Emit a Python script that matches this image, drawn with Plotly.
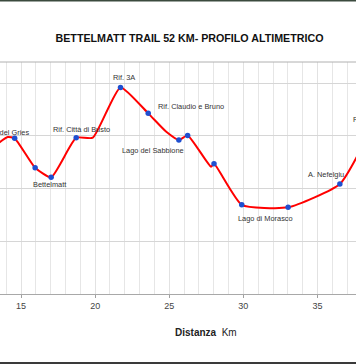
import plotly.graph_objects as go

# Data (distance in km, altitude in m)
km = [13.0, 14.1, 14.57, 15.95, 17.03, 18.72, 19.84, 21.71, 23.58, 24.8, 25.65,
      26.24, 27.82, 28.02, 29.89, 33.02, 36.51, 38.6]
quota = [2380, 2488, 2476, 2197, 2106, 2482, 2482, 2959, 2713, 2538, 2460,
         2504, 2207, 2235, 1846, 1822, 2043, 2560]
marked = [False, False, True, True, True, True, False, True, True, False, True,
          True, False, True, True, True, True, True]
labels = ["", "", "Passo del Gries", "", "Bettelmatt", "Rif. Città di Busto", "",
          "Rif. 3A", "Rif. Claudio e Bruno", "", "Lago del Sabbione", "", "", "",
          "Lago di Morasco", "", "A. Nefelgiu", "Rif. Maria Luisa"]

title = "BETTELMATT TRAIL 52 KM- PROFILO ALTIMETRICO"
x_range = [13.58, 37.6]
y_range = [1000, 3200]

# label placement (style): xanchor, xshift, yshift
label_style = {
    "Passo del Gries": ("right", 16, 6),
    "Bettelmatt": ("center", -2, -7),
    "Rif. Città di Busto": ("center", 5.5, 8),
    "Rif. 3A": ("center", 4, 10),
    "Rif. Claudio e Bruno": ("left", 7.5, 6.6),
    "Lago del Sabbione": ("center", -26, -10),
    "Lago di Morasco": ("left", -6, -14),
    "A. Nefelgiu": ("center", -14, 9.3),
    "Rif. Maria Luisa": ("left", -20, 9.5),
}

LABEL_FONT = dict(family="Liberation Sans", size=7.4, color="#333333")

fig = go.Figure()
fig.add_trace(go.Scatter(
    x=km, y=quota, mode="lines",
    line=dict(color="#ff0000", width=2, shape="spline", smoothing=0.5),
    hoverinfo="skip", cliponaxis=False,
))
mk_x = [k for k, m in zip(km, marked) if m]
mk_y = [q for q, m in zip(quota, marked) if m]
fig.add_trace(go.Scatter(
    x=mk_x, y=mk_y, mode="markers",
    marker=dict(color="#1f4fd0", size=5.5, line=dict(width=0)),
    hoverinfo="skip",
))


def to_paper(k, q):
    return ((k - x_range[0]) / (x_range[1] - x_range[0]),
            (q - y_range[0]) / (y_range[1] - y_range[0]))


annotations = []
for k, q, lab in zip(km, quota, labels):
    if not lab:
        continue
    xa, xs, ys = label_style[lab]
    px, py = to_paper(k, q)
    annotations.append(dict(x=px, y=py, xref="paper", yref="paper", text=lab, showarrow=False,
                            xanchor=xa, yanchor="middle", xshift=xs, yshift=ys,
                            font=LABEL_FONT))

# axis title
annotations.append(dict(x=206 / 356, y=(294 - 332.3) / 232, xref="paper", yref="paper",
                        text="<b>Distanza</b>  Km", showarrow=False,
                        xanchor="center", yanchor="middle",
                        font=dict(family="Liberation Sans", size=10, color="#222222")))

fig.update_layout(
    width=356, height=364,
    margin=dict(l=0, r=0, t=62, b=70),
    paper_bgcolor="white", plot_bgcolor="white",
    showlegend=False,
    title=dict(text="<b>" + title + "</b>", x=189.5 / 356, xanchor="center",
               y=1 - 38.3 / 364, yanchor="middle", yref="container",
               font=dict(family="Liberation Sans", size=10.7, color="#111111")),
    xaxis=dict(range=x_range, dtick=5, tick0=0, showgrid=True, gridcolor="#e2e2e2",
               gridwidth=1, ticks="outside", ticklen=3, tickcolor="#a0a0a0",
               showline=True, linecolor="#a8a8a8", linewidth=1, zeroline=False,
               tickfont=dict(family="Liberation Sans", size=9, color="#444444"),
               minor=dict(dtick=1, showgrid=True, gridcolor="#e6e6e6", gridwidth=1)),
    yaxis=dict(range=y_range, dtick=500, tick0=0, showgrid=True, gridcolor="#d6d6d6",
               gridwidth=1, showticklabels=False, zeroline=False, showline=False),
    annotations=annotations,
    shapes=[
        dict(type="line", xref="paper", yref="paper", x0=0, x1=1, y0=1, y1=1,
             line=dict(color="#b0b0b0", width=1)),
        dict(type="line", xref="paper", yref="paper", x0=0, x1=1,
             y0=(294 - 0.75) / 232, y1=(294 - 0.75) / 232,
             line=dict(color="#3b4a3e", width=1.5)),
        dict(type="line", xref="paper", yref="paper", x0=0, x1=1,
             y0=(294 - 363) / 232, y1=(294 - 363) / 232,
             line=dict(color="#3a3a3a", width=2)),
    ],
)

fig.write_html("out.html", config={"displayModeBar": False},
               post_script="document.body.style.margin='0';document.body.style.overflow='hidden';")
